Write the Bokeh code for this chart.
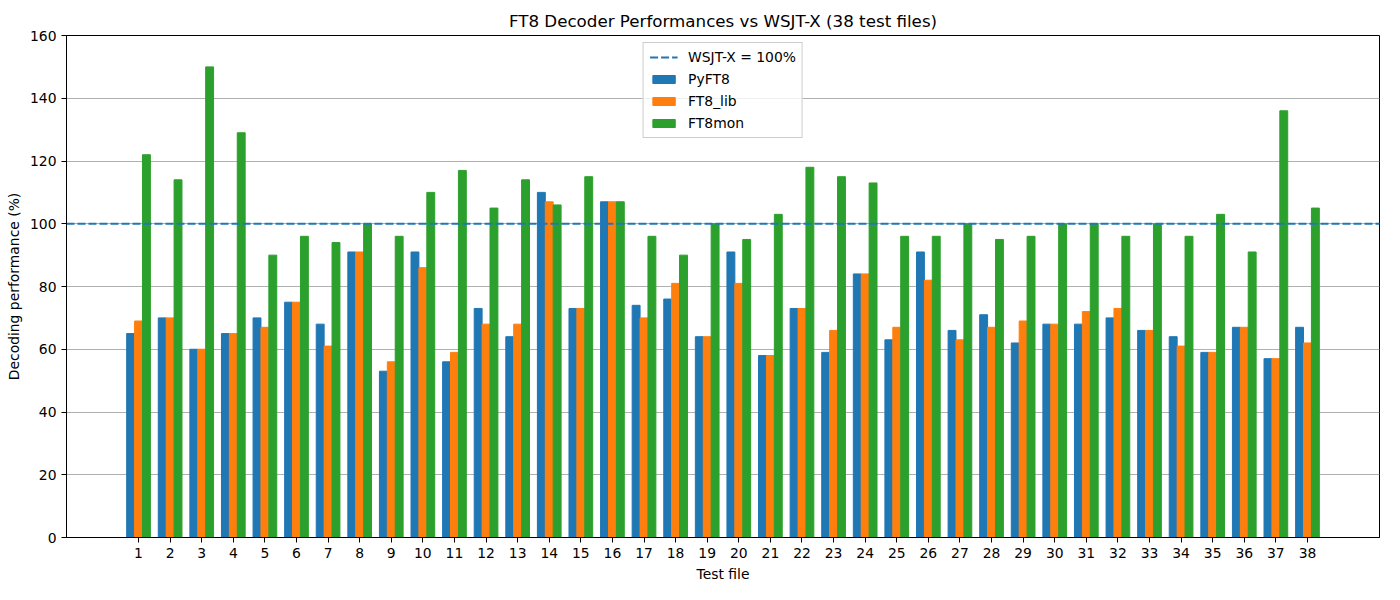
from bokeh.plotting import figure
from bokeh.models import ColumnDataSource, FixedTicker, Legend, LegendItem, Range1d
from bokeh.transform import dodge
from bokeh.embed import file_html
from bokeh.resources import INLINE

files = list(range(1, 39))
pyft8 = [65, 70, 60, 65, 70, 75, 68, 91, 53, 91, 56, 73, 64, 110, 73, 107, 74, 76, 64,
         91, 58, 73, 59, 84, 63, 91, 66, 71, 62, 68, 68, 70, 66, 64, 59, 67, 57, 67]
ft8_lib = [69, 70, 60, 65, 67, 75, 61, 91, 56, 86, 59, 68, 68, 107, 73, 107, 70, 81, 64,
           81, 58, 73, 66, 84, 67, 82, 63, 67, 69, 68, 72, 73, 66, 61, 59, 67, 57, 62]
ft8mon = [122, 114, 150, 129, 90, 96, 94, 100, 96, 110, 117, 105, 114, 106, 115, 107, 96, 90, 100,
          95, 103, 118, 115, 113, 96, 96, 100, 95, 96, 100, 100, 96, 100, 96, 103, 91, 136, 105]
wsjtx_level = 100
y_ticks = [0, 20, 40, 60, 80, 100, 120, 140, 160]

FONT = "DejaVu Sans"

source = ColumnDataSource(data=dict(file=files, pyft8=pyft8, ft8_lib=ft8_lib, ft8mon=ft8mon))

p = figure(title="FT8 Decoder Performances vs WSJT-X (38 test files)",
           x_axis_label="Test file",
           y_axis_label="Decoding performance (%)",
           width=1384, height=584,
           x_range=Range1d(-1.28, 40.28), y_range=Range1d(0, 160),
           output_backend="svg", toolbar_location=None,
           min_border_left=66, min_border_right=5,
           min_border_top=35, min_border_bottom=44)

bw = 0.25
r_a = p.vbar(x=dodge('file', -bw, range=p.x_range), top='pyft8', width=bw, source=source,
             color='#1f77b4')
r_b = p.vbar(x=dodge('file', 0, range=p.x_range), top='ft8_lib', width=bw, source=source,
             color='#ff7f0e')
r_c = p.vbar(x=dodge('file', bw, range=p.x_range), top='ft8mon', width=bw, source=source,
             color='#2ca02c')

# dashed reference line across the whole x range
xr = p.x_range
r_ref = p.line(x=[xr.start, xr.end], y=[wsjtx_level, wsjtx_level],
               color='#1f77b4', line_width=2, line_dash="8 3")

legend = Legend(items=[
    LegendItem(label="WSJT-X = 100%", renderers=[r_ref]),
    LegendItem(label="PyFT8", renderers=[r_a]),
    LegendItem(label="FT8_lib", renderers=[r_b]),
    LegendItem(label="FT8mon", renderers=[r_c]),
], location="top_center")
legend.label_text_font = FONT
legend.label_text_font_size = "13.9px"
legend.label_text_color = "black"
legend.glyph_width = 28
legend.glyph_height = 10
legend.label_height = 15
legend.spacing = 6
legend.padding = 6
legend.margin = 7
legend.border_line_color = "#cccccc"
legend.border_line_alpha = 1
legend.background_fill_alpha = 0.8
legend.label_standoff = 11
p.add_layout(legend, "center")

p.title.align = "center"
p.title.text_font = FONT
p.title.text_font_size = "16.7px"
p.title.text_font_style = "normal"
p.title.text_color = "black"

for ax in (p.xaxis[0], p.yaxis[0]):
    ax.axis_label_text_font = FONT
    ax.axis_label_text_font_size = "13.9px"
    ax.axis_label_text_font_style = "normal"
    ax.major_label_text_font = FONT
    ax.major_label_text_font_size = "13.9px"
    ax.major_label_text_color = "black"
    ax.axis_label_text_color = "black"
    ax.minor_tick_line_color = None
    ax.major_tick_out = 5
    ax.major_tick_in = 0
    ax.axis_line_color = "black"
    ax.major_tick_line_color = "black"

p.xaxis.ticker = FixedTicker(ticks=files)
p.yaxis.ticker = FixedTicker(ticks=y_ticks)

p.xgrid.grid_line_color = None
p.ygrid.grid_line_color = "#b0b0b0"
p.ygrid.grid_line_width = 1

p.outline_line_color = "black"
p.outline_line_alpha = 1
p.outline_line_width = 1

open("out.html", "w").write(file_html(p, INLINE))
